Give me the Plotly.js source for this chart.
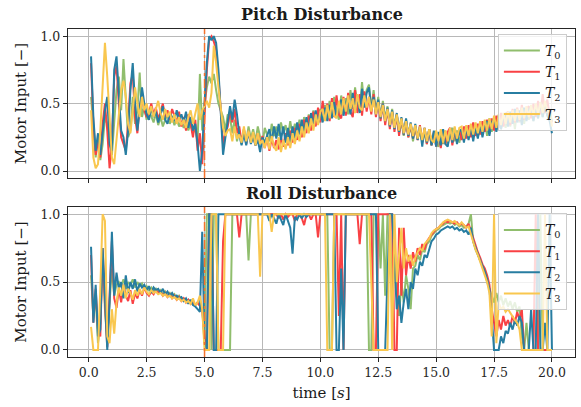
<!DOCTYPE html>
<html>
<head>
<meta charset="utf-8">
<script src="https://cdn.plot.ly/plotly-3.0.1.min.js"></script>
<style>html,body{margin:0;padding:0;background:#fff;}#chart{width:581px;height:407px;}</style>
</head>
<body>
<div id="chart"></div>
<script>
// time samples [s]
const time = [
0.1,0.2,0.3,0.4,0.5,0.6,0.7,0.8,0.9,1.0,
1.1,1.2,1.3,1.4,1.5,1.6,1.7,1.8,1.9,2.0,
2.1,2.2,2.3,2.4,2.5,2.6,2.7,2.8,2.9,3.0,
3.1,3.2,3.3,3.4,3.5,3.6,3.7,3.8,3.9,4.0,
4.1,4.2,4.3,4.4,4.5,4.6,4.7,4.8,4.9,5.0,
5.1,5.2,5.3,5.4,5.5,5.6,5.7,5.8,5.9,6.0,
6.1,6.2,6.3,6.4,6.5,6.6,6.7,6.8,6.9,7.0,
7.1,7.2,7.3,7.4,7.5,7.6,7.7,7.8,7.9,8.0,
8.1,8.2,8.3,8.4,8.5,8.6,8.7,8.8,8.9,9.0,
9.1,9.2,9.3,9.4,9.5,9.6,9.7,9.8,9.9,10.0,
10.1,10.2,10.3,10.4,10.5,10.6,10.7,10.8,10.9,11.0,
11.1,11.2,11.3,11.4,11.5,11.6,11.7,11.8,11.9,12.0,
12.1,12.2,12.3,12.4,12.5,12.6,12.7,12.8,12.9,13.0,
13.1,13.2,13.3,13.4,13.5,13.6,13.7,13.8,13.9,14.0,
14.1,14.2,14.3,14.4,14.5,14.6,14.7,14.8,14.9,15.0,
15.1,15.2,15.3,15.4,15.5,15.6,15.7,15.8,15.9,16.0,
16.1,16.2,16.3,16.4,16.5,16.6,16.7,16.8,16.9,17.0,
17.1,17.2,17.3,17.4,17.5,17.6,17.7,17.8,17.9,18.0,
18.1,18.2,18.3,18.4,18.5,18.6,18.7,18.8,18.9,19.0,
19.1,19.2,19.3,19.4,19.5,19.6,19.7,19.8,19.9,20.0];

const seriesNames = ["<i>T</i><sub>0</sub>", "<i>T</i><sub>1</sub>", "<i>T</i><sub>2</sub>", "<i>T</i><sub>3</sub>"];
const seriesColors = ["#90be6d", "#f94144", "#277da1", "#f9c74f"];
const disturbanceTime = 5.0;
const xTicks = [0, 2.5, 5, 7.5, 10, 12.5, 15, 17.5, 20];
const yTicks = [0, 0.5, 1];

// ---------- Pitch disturbance ----------
const pitchT0 = [
0.55,0.30,0.10,0.25,0.08,0.20,0.40,0.35,0.20,0.12,
0.35,0.60,0.70,0.45,0.83,0.50,0.25,0.30,0.55,0.35,
0.45,0.73,0.40,0.48,0.38,0.45,0.40,0.36,0.43,0.34,
0.40,0.33,0.38,0.42,0.35,0.40,0.34,0.39,0.33,0.37,
0.32,0.38,0.30,0.35,0.28,0.32,0.22,0.72,0.30,0.50,
0.62,0.70,0.65,0.72,0.60,0.50,0.45,0.40,0.30,0.42,
0.40,0.28,0.38,0.22,0.30,0.20,0.31,0.22,0.33,0.24,
0.31,0.22,0.33,0.25,0.20,0.32,0.27,0.22,0.35,0.26,
0.33,0.26,0.36,0.28,0.34,0.25,0.37,0.27,0.35,0.28,
0.38,0.29,0.40,0.31,0.42,0.33,0.45,0.35,0.40,0.46,
0.38,0.49,0.40,0.52,0.42,0.55,0.44,0.38,0.56,0.45,
0.54,0.42,0.60,0.46,0.62,0.48,0.44,0.66,0.48,0.60,
0.64,0.46,0.60,0.44,0.55,0.40,0.52,0.38,0.48,0.34,
0.46,0.32,0.42,0.28,0.37,0.26,0.38,0.25,0.34,0.22,
0.32,0.24,0.30,0.22,0.28,0.20,0.31,0.19,0.28,0.21,
0.18,0.27,0.20,0.30,0.19,0.29,0.32,0.22,0.30,0.21,
0.29,0.23,0.32,0.24,0.33,0.26,0.35,0.25,0.34,0.27,
0.36,0.26,0.39,0.29,0.38,0.30,0.41,0.31,0.40,0.32,
0.42,0.33,0.44,0.31,0.45,0.36,0.47,0.35,0.46,0.38,
0.46,0.37,0.49,0.39,0.48,0.40,0.50,0.41,0.45,0.37];
const pitchT1 = [
0.80,0.35,0.12,0.22,0.10,0.35,0.50,0.30,0.02,0.20,
0.70,0.78,0.50,0.25,0.20,0.15,0.35,0.65,0.72,0.40,
0.28,0.48,0.55,0.45,0.40,0.43,0.50,0.42,0.47,0.38,
0.44,0.50,0.40,0.45,0.38,0.46,0.41,0.36,0.44,0.33,
0.40,0.30,0.42,0.35,0.25,0.38,0.15,0.28,0.05,0.40,
0.75,0.98,1.00,0.96,0.90,0.70,0.45,0.20,0.28,0.33,
0.44,0.36,0.46,0.28,0.33,0.21,0.31,0.20,0.29,0.22,
0.27,0.19,0.28,0.20,0.26,0.17,0.25,0.15,0.24,0.17,
0.23,0.16,0.25,0.18,0.28,0.19,0.30,0.21,0.32,0.23,
0.35,0.25,0.38,0.28,0.41,0.30,0.44,0.33,0.47,0.36,
0.52,0.38,0.50,0.37,0.54,0.40,0.56,0.42,0.39,0.55,
0.41,0.58,0.44,0.40,0.60,0.43,0.57,0.41,0.59,0.44,
0.55,0.42,0.57,0.40,0.52,0.37,0.50,0.34,0.46,0.31,
0.44,0.29,0.42,0.26,0.39,0.27,0.37,0.25,0.35,0.24,
0.33,0.23,0.34,0.21,0.32,0.20,0.31,0.19,0.29,0.18,
0.28,0.17,0.30,0.20,0.29,0.32,0.19,0.30,0.22,0.31,
0.23,0.33,0.24,0.34,0.25,0.36,0.26,0.35,0.27,0.37,
0.29,0.38,0.28,0.39,0.30,0.41,0.32,0.43,0.33,0.42,
0.44,0.34,0.46,0.36,0.47,0.37,0.49,0.38,0.46,0.48,
0.39,0.50,0.40,0.52,0.42,0.57,0.43,0.53,0.41,0.36];
const pitchT2 = [
0.85,0.40,0.15,0.28,0.12,0.30,0.45,0.55,0.20,0.15,
0.75,0.85,0.55,0.30,0.25,0.12,0.30,0.60,0.80,0.50,
0.30,0.45,0.62,0.50,0.42,0.38,0.47,0.40,0.44,0.36,
0.42,0.48,0.38,0.35,0.43,0.40,0.37,0.45,0.38,0.42,
0.36,0.44,0.32,0.40,0.30,0.35,0.20,0.00,0.15,0.50,
0.80,1.00,0.97,1.00,0.95,0.75,0.40,0.12,0.25,0.35,
0.48,0.38,0.53,0.42,0.27,0.19,0.28,0.19,0.30,0.20,
0.25,0.19,0.23,0.14,0.25,0.21,0.26,0.31,0.22,0.33,
0.24,0.35,0.23,0.33,0.21,0.32,0.20,0.33,0.24,0.36,
0.27,0.38,0.28,0.40,0.30,0.43,0.33,0.45,0.35,0.44,
0.36,0.47,0.37,0.49,0.39,0.51,0.40,0.48,0.53,0.41,
0.50,0.55,0.42,0.58,0.45,0.56,0.43,0.61,0.47,0.58,
0.62,0.45,0.55,0.42,0.53,0.39,0.50,0.37,0.47,0.33,
0.45,0.31,0.43,0.29,0.40,0.27,0.39,0.26,0.36,0.24,
0.35,0.23,0.33,0.18,0.32,0.21,0.31,0.19,0.30,0.18,
0.29,0.19,0.31,0.20,0.18,0.30,0.21,0.32,0.20,0.29,
0.31,0.21,0.33,0.23,0.34,0.22,0.33,0.24,0.35,0.25,
0.34,0.37,0.26,0.36,0.39,0.29,0.41,0.31,0.40,0.43,
0.33,0.44,0.35,0.46,0.36,0.45,0.34,0.47,0.37,0.45,
0.48,0.37,0.49,0.39,0.51,0.40,0.50,0.41,0.37,0.28];
const pitchT3 = [
0.45,0.10,0.02,0.05,0.30,0.60,0.95,0.70,0.35,0.10,
0.05,0.25,0.45,0.60,0.67,0.55,0.35,0.28,0.45,0.62,
0.50,0.40,0.55,0.45,0.50,0.42,0.48,0.40,0.46,0.52,
0.43,0.38,0.46,0.40,0.44,0.36,0.42,0.35,0.40,0.34,
0.38,0.32,0.40,0.45,0.35,0.42,0.50,0.38,0.45,0.48,
0.52,0.47,0.58,0.93,0.80,0.62,0.45,0.32,0.26,0.30,
0.31,0.22,0.33,0.24,0.27,0.21,0.33,0.22,0.30,0.21,
0.29,0.19,0.28,0.20,0.23,0.17,0.25,0.16,0.26,0.18,
0.15,0.25,0.14,0.23,0.16,0.25,0.17,0.28,0.20,0.30,
0.22,0.33,0.25,0.36,0.28,0.39,0.30,0.42,0.34,0.44,
0.46,0.37,0.49,0.39,0.51,0.41,0.39,0.52,0.42,0.54,
0.44,0.56,0.46,0.54,0.43,0.57,0.47,0.45,0.56,0.47,
0.55,0.44,0.53,0.42,0.51,0.40,0.49,0.37,0.46,0.34,
0.44,0.32,0.42,0.30,0.39,0.28,0.37,0.27,0.35,0.26,
0.34,0.24,0.33,0.23,0.32,0.22,0.31,0.23,0.21,0.30,
0.22,0.31,0.21,0.30,0.22,0.32,0.23,0.33,0.24,0.32,
0.33,0.24,0.34,0.26,0.35,0.27,0.36,0.28,0.37,0.29,
0.38,0.30,0.39,0.31,0.41,0.32,0.42,0.34,0.43,0.35,
0.44,0.36,0.45,0.37,0.46,0.38,0.47,0.39,0.48,0.40,
0.49,0.41,0.50,0.42,0.51,0.43,0.52,0.44,0.45,0.33];

// ---------- Roll disturbance ----------
const rollT0 = [
0.55,0.25,0.40,0.05,0.20,0.70,0.30,0.05,0.35,0.60,
0.40,0.48,0.50,0.47,0.52,0.45,0.50,0.48,0.52,0.46,
0.50,0.47,0.49,0.45,0.47,0.44,0.46,0.43,0.45,0.42,
0.44,0.41,0.43,0.40,0.42,0.39,0.41,0.38,0.40,0.37,
0.38,0.36,0.37,0.35,0.34,0.33,0.35,0.32,0.30,0.05,
1.00,1.00,0.00,1.00,1.00,0.00,0.00,0.00,0.00,0.00,
0.00,1.00,1.00,1.00,1.00,1.00,1.00,1.00,0.66,1.00,
1.00,1.00,1.00,1.00,1.00,1.00,1.00,1.00,1.00,1.00,
1.00,1.00,1.00,1.00,1.00,1.00,1.00,1.00,1.00,1.00,
1.00,1.00,1.00,1.00,1.00,1.00,1.00,1.00,1.00,1.00,
1.00,1.00,1.00,0.00,0.00,1.00,1.00,1.00,1.00,1.00,
1.00,1.00,1.00,1.00,1.00,1.00,1.00,1.00,1.00,1.00,
0.00,0.00,1.00,1.00,1.00,0.60,1.00,0.40,1.00,1.00,
0.30,0.70,0.40,0.25,0.50,0.35,0.55,0.45,0.30,0.60,
0.62,0.70,0.66,0.74,0.72,0.78,0.80,0.84,0.86,0.88,
0.89,0.91,0.92,0.93,0.94,0.93,0.94,0.92,0.93,0.91,
0.92,0.90,0.91,0.93,1.00,0.80,0.74,0.70,0.66,0.62,
0.58,0.50,0.45,0.40,0.35,0.42,0.35,0.40,0.33,0.38,
0.32,0.36,0.30,0.35,0.28,0.32,0.10,0.00,0.20,0.00,
0.00,0.00,0.00,0.00,1.00,0.00,0.00,0.00,0.00,0.00];
const rollT1 = [
0.70,0.20,0.45,0.15,0.10,0.75,0.35,0.02,0.40,0.80,
0.38,0.31,0.45,0.35,0.48,0.40,0.36,0.44,0.34,0.42,
0.38,0.44,0.40,0.46,0.42,0.40,0.43,0.41,0.44,0.42,
0.43,0.40,0.42,0.39,0.41,0.38,0.40,0.37,0.39,0.36,
0.38,0.35,0.37,0.34,0.36,0.33,0.35,0.32,0.30,0.10,
0.00,1.00,1.00,0.00,0.00,0.00,0.00,0.80,1.00,1.00,
1.00,1.00,1.00,1.00,0.83,1.00,1.00,1.00,1.00,1.00,
1.00,1.00,1.00,1.00,1.00,1.00,1.00,1.00,1.00,1.00,
1.00,0.97,1.00,0.96,1.00,0.98,1.00,1.00,0.95,1.00,
1.00,0.97,0.92,1.00,1.00,0.96,1.00,1.00,0.83,1.00,
1.00,1.00,1.00,1.00,1.00,1.00,1.00,0.25,1.00,0.00,
1.00,1.00,1.00,1.00,1.00,1.00,0.78,1.00,1.00,1.00,
1.00,1.00,0.00,0.00,1.00,1.00,1.00,1.00,1.00,1.00,
1.00,0.00,0.00,0.90,0.40,0.90,0.55,0.70,0.60,0.72,
0.65,0.75,0.70,0.78,0.74,0.80,0.83,0.85,0.87,0.89,
0.90,0.92,0.93,0.95,0.94,0.95,0.94,0.93,0.94,0.92,
0.93,0.92,0.90,0.93,0.88,0.82,0.78,0.72,0.68,0.63,
0.60,0.55,0.48,0.30,0.20,0.10,0.22,0.15,0.25,0.18,
0.22,0.17,0.25,0.20,0.28,0.22,0.30,0.00,0.00,0.00,
0.00,0.00,1.00,0.00,0.00,0.00,0.00,0.00,0.00,0.00];
const rollT2 = [
0.76,0.20,0.48,0.10,0.15,0.75,0.40,0.00,0.35,0.87,
0.40,0.57,0.45,0.50,0.38,0.55,0.42,0.50,0.45,0.52,
0.43,0.49,0.46,0.48,0.44,0.47,0.42,0.46,0.44,0.45,
0.42,0.45,0.41,0.43,0.40,0.42,0.39,0.40,0.38,0.39,
0.36,0.38,0.34,0.37,0.33,0.32,0.30,0.28,0.87,0.05,
0.00,1.00,1.00,0.00,0.00,1.00,1.00,1.00,1.00,1.00,
1.00,1.00,1.00,1.00,1.00,1.00,1.00,1.00,1.00,1.00,
1.00,1.00,1.00,1.00,1.00,1.00,1.00,0.95,1.00,0.97,
0.93,1.00,0.96,0.92,1.00,0.95,0.90,0.71,0.98,0.96,
1.00,0.97,1.00,0.98,1.00,1.00,1.00,1.00,1.00,1.00,
1.00,1.00,1.00,1.00,1.00,1.00,0.00,0.00,0.60,0.00,
1.00,1.00,1.00,1.00,1.00,1.00,1.00,1.00,1.00,1.00,
1.00,1.00,1.00,1.00,0.00,0.00,0.00,0.00,0.55,1.00,
1.00,0.60,0.30,0.40,0.20,0.35,0.45,0.30,0.50,0.45,
0.60,0.55,0.65,0.62,0.70,0.68,0.75,0.80,0.82,0.85,
0.86,0.88,0.89,0.90,0.91,0.90,0.91,0.89,0.90,0.88,
0.89,0.87,0.88,0.85,0.90,0.80,0.75,0.70,0.66,0.62,
0.58,0.52,0.45,0.25,0.00,0.00,0.00,0.10,0.05,0.14,
0.12,0.20,0.15,0.22,0.18,0.25,0.20,0.00,0.00,0.00,
0.30,0.00,0.00,1.00,0.00,0.00,0.20,0.00,1.00,0.00];
const rollT3 = [
0.17,0.00,0.00,0.00,0.45,1.00,0.95,0.10,0.05,0.30,
0.12,0.35,0.46,0.40,0.48,0.38,0.45,0.42,0.37,0.44,
0.40,0.45,0.41,0.46,0.43,0.41,0.44,0.42,0.43,0.41,
0.42,0.40,0.41,0.39,0.40,0.38,0.39,0.37,0.38,0.36,
0.37,0.35,0.36,0.34,0.38,0.33,0.35,0.40,0.30,0.00,
0.00,0.00,1.00,1.00,1.00,0.00,0.00,0.00,1.00,1.00,
1.00,1.00,1.00,1.00,1.00,1.00,1.00,1.00,1.00,1.00,
1.00,1.00,1.00,0.54,1.00,1.00,1.00,1.00,0.87,1.00,
1.00,1.00,1.00,1.00,1.00,1.00,1.00,1.00,1.00,1.00,
1.00,1.00,1.00,1.00,1.00,1.00,1.00,1.00,1.00,1.00,
1.00,1.00,0.00,0.00,0.00,1.00,1.00,1.00,1.00,1.00,
1.00,1.00,1.00,1.00,1.00,1.00,1.00,1.00,1.00,1.00,
1.00,0.50,0.00,0.00,0.00,0.00,0.00,0.00,0.00,1.00,
0.00,1.00,0.50,0.70,0.90,0.60,0.75,0.65,0.70,0.62,
0.68,0.72,0.75,0.73,0.78,0.80,0.82,0.86,0.88,0.89,
0.90,0.92,0.94,0.95,0.96,0.95,0.94,0.95,0.93,0.92,
0.94,0.92,0.90,0.91,0.85,0.78,0.74,0.70,0.65,0.60,
0.56,0.50,0.42,0.10,1.00,0.05,0.35,0.30,0.32,0.28,
0.30,0.27,0.25,0.22,0.20,0.15,0.00,0.00,0.00,0.00,
0.00,0.00,0.00,0.00,0.00,0.00,1.00,0.00,0.00,0.00];

const pitchSeries = [pitchT0, pitchT1, pitchT2, pitchT3];
const rollSeries = [rollT0, rollT1, rollT2, rollT3];

const SERIF = "DejaVu Serif";
const traces = [];
pitchSeries.forEach((ys, i) => traces.push({
  x: time, y: ys, type: "scatter", mode: "lines", name: seriesNames[i],
  xaxis: "x", yaxis: "y", legend: "legend",
  line: {color: seriesColors[i], width: 2}
}));
rollSeries.forEach((ys, i) => traces.push({
  x: time, y: ys, type: "scatter", mode: "lines", name: seriesNames[i],
  xaxis: "x2", yaxis: "y2", legend: "legend2",
  line: {color: seriesColors[i], width: 2}
}));

const axisCommon = {
  showline: true, mirror: true, linecolor: "#262626", linewidth: 1.2,
  ticks: "outside", ticklen: 4, tickwidth: 1, tickcolor: "#262626",
  showgrid: true, gridcolor: "#b8b8b8", gridwidth: 1, zeroline: false,
  automargin: false,
  tickfont: {family: SERIF, size: 12.5, color: "#262626"}
};
const yTitle = {text: "Motor Input [−]", font: {family: SERIF, size: 15, color: "#1a1a1a"}, standoff: 10};
const xRange = [-0.895, 20.995];
const yRange = [-0.052, 1.053];
const topDom = [0.5457, 1];
const botDom = [0, 0.4573];

const legendCommon = {x: 0.984, xanchor: "right", yanchor: "top", itemwidth: 36,
  bgcolor: "rgba(255,255,255,0.8)", bordercolor: "#cccccc", borderwidth: 1,
  font: {family: SERIF, size: 14, color: "#1a1a1a"}};

const layout = {
  width: 581, height: 407,
  margin: {l: 68, r: 6, t: 29, b: 50},
  paper_bgcolor: "#ffffff", plot_bgcolor: "#ffffff",
  showlegend: true,
  xaxis: Object.assign({}, axisCommon, {domain: [0, 1], anchor: "y", range: xRange, tickvals: xTicks, showticklabels: false}),
  yaxis: Object.assign({}, axisCommon, {domain: topDom, anchor: "x", range: yRange, tickvals: yTicks, tickformat: ".1f", title: yTitle}),
  xaxis2: Object.assign({}, axisCommon, {domain: [0, 1], anchor: "y2", range: xRange, tickvals: xTicks, tickformat: ".1f",
    title: {text: "time [<i>s</i>]", font: {family: SERIF, size: 15, color: "#1a1a1a"}, standoff: 8}}),
  yaxis2: Object.assign({}, axisCommon, {domain: botDom, anchor: "x2", range: yRange, tickvals: yTicks, tickformat: ".1f", title: yTitle}),
  legend: Object.assign({}, legendCommon, {y: 0.985}),
  legend2: Object.assign({}, legendCommon, {y: 0.438}),
  shapes: [
    {type: "line", xref: "x", yref: "y domain", x0: disturbanceTime, x1: disturbanceTime, y0: 0, y1: 1,
     line: {color: "#f3722c", width: 1.5, dash: "dashdot"}, layer: "above"},
    {type: "line", xref: "x2", yref: "y2 domain", x0: disturbanceTime, x1: disturbanceTime, y0: 0, y1: 1,
     line: {color: "#f3722c", width: 1.5, dash: "dashdot"}, layer: "above"}
  ],
  annotations: [
    {text: "<b>Pitch Disturbance</b>", xref: "paper", yref: "paper", x: 0.5, xanchor: "center", y: 1, yanchor: "middle", yshift: 14.5,
     showarrow: false, font: {family: SERIF, size: 16, color: "#1a1a1a"}},
    {text: "<b>Roll Disturbance</b>", xref: "paper", yref: "paper", x: 0.5, xanchor: "center", y: botDom[1], yanchor: "middle", yshift: 14,
     showarrow: false, font: {family: SERIF, size: 16, color: "#1a1a1a"}}
  ]
};

Plotly.newPlot("chart", traces, layout, {displayModeBar: false, staticPlot: true});
</script>
</body>
</html>
